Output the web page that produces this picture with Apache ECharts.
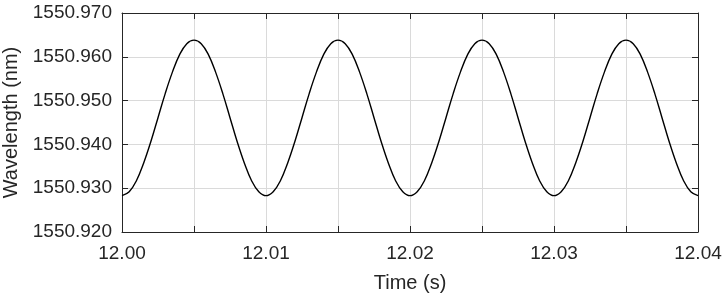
<!DOCTYPE html>
<html>
<head>
<meta charset="utf-8">
<script src="https://cdn.jsdelivr.net/npm/echarts@6/dist/echarts.min.js"></script>
<style>
html,body{margin:0;padding:0;background:#fff;}
#chart{width:727px;height:301px;}
</style>
</head>
<body>
<div id="chart"></div>
<script>
// time samples (s), every 0.5 ms
var times = [];
for (var i = 0; i <= 80; i++) times.push(+(12 + i * 0.0005).toFixed(4));

// wavelength (nm)
var wavelength = [
    1550.9283, 1550.9292, 1550.9317, 1550.9357, 1550.9406, 1550.9461, 1550.9516, 1550.9565, 1550.9605, 1550.9630,
    1550.9638, 1550.9630, 1550.9605, 1550.9565, 1550.9516, 1550.9461, 1550.9406, 1550.9357, 1550.9317, 1550.9292,
    1550.9283, 1550.9292, 1550.9317, 1550.9357, 1550.9406, 1550.9461, 1550.9516, 1550.9565, 1550.9605, 1550.9630,
    1550.9638, 1550.9630, 1550.9605, 1550.9565, 1550.9516, 1550.9461, 1550.9406, 1550.9357, 1550.9317, 1550.9292,
    1550.9283, 1550.9292, 1550.9317, 1550.9357, 1550.9406, 1550.9461, 1550.9516, 1550.9565, 1550.9605, 1550.9630,
    1550.9638, 1550.9630, 1550.9605, 1550.9565, 1550.9516, 1550.9461, 1550.9406, 1550.9357, 1550.9317, 1550.9292,
    1550.9283, 1550.9292, 1550.9317, 1550.9357, 1550.9406, 1550.9461, 1550.9516, 1550.9565, 1550.9605, 1550.9630,
    1550.9638, 1550.9630, 1550.9605, 1550.9565, 1550.9516, 1550.9461, 1550.9406, 1550.9357, 1550.9317, 1550.9292,
    1550.9283
];

var xTickLabels = ['12.00', '12.01', '12.02', '12.03', '12.04'];
var yTickLabels = ['1550.920', '1550.930', '1550.940', '1550.950', '1550.960', '1550.970'];

var font = 'Liberation Sans, Arial, sans-serif';
var axisColor = '#262626';

var chart = echarts.init(document.getElementById('chart'));

var points = times.map(function (t, i) { return [t, wavelength[i]]; });

function xLabel(v) {
    var k = Math.round((v - 12) / 0.005);
    if (k % 2 !== 0) return '';
    return xTickLabels[k / 2] || '';
}
function yLabel(v) {
    var k = Math.round((v - 1550.92) / 0.01);
    return yTickLabels[k] || '';
}

var option = {
    animation: false,
    grid: { left: 122, right: 29, top: 13, bottom: 69, containLabel: false, outerBoundsMode: 'none' },
    xAxis: [{
        type: 'value',
        min: 12, max: 12.04, interval: 0.005,
        name: 'Time (s)',
        nameLocation: 'middle', nameGap: 41,
        nameTextStyle: { fontFamily: font, fontSize: 20, color: axisColor },
        axisLine: { lineStyle: { color: axisColor, width: 1 } },
        axisTick: { show: true, inside: true, length: 6, lineStyle: { color: axisColor } },
        axisLabel: { formatter: xLabel, fontFamily: font, fontSize: 19, color: axisColor, margin: 12, showMinLabel: true, showMaxLabel: true },
        splitLine: { show: true, lineStyle: { color: '#dadada', width: 1 } }
    }, {
        type: 'value', position: 'top',
        min: 12, max: 12.04, interval: 0.005,
        axisLine: { show: true, lineStyle: { color: axisColor, width: 1 } },
        axisTick: { show: true, inside: true, length: 6, lineStyle: { color: axisColor } },
        axisLabel: { show: false },
        splitLine: { show: false }
    }],
    yAxis: [{
        type: 'value',
        min: 1550.92, max: 1550.97, interval: 0.01,
        name: 'Wavelength (nm)',
        nameLocation: 'middle', nameGap: 98, nameRotate: 90,
        nameTextStyle: { fontFamily: font, fontSize: 20, color: axisColor },
        axisLine: { show: true, lineStyle: { color: axisColor, width: 1 } },
        axisTick: { show: true, inside: true, length: 6, lineStyle: { color: axisColor } },
        axisLabel: { formatter: yLabel, fontFamily: font, fontSize: 19, color: axisColor, margin: 10, showMinLabel: true, showMaxLabel: true },
        splitLine: { show: true, lineStyle: { color: '#dadada', width: 1 } }
    }, {
        type: 'value', position: 'right',
        min: 1550.92, max: 1550.97, interval: 0.01,
        axisLine: { show: true, lineStyle: { color: axisColor, width: 1 } },
        axisTick: { show: true, inside: true, length: 6, lineStyle: { color: axisColor } },
        axisLabel: { show: false },
        splitLine: { show: false }
    }],
    series: [{
        type: 'line',
        data: points,
        smooth: 0.4,
        showSymbol: false,
        lineStyle: { color: '#000', width: 1.4 }
    }]
};

chart.setOption(option);
</script>
</body>
</html>
